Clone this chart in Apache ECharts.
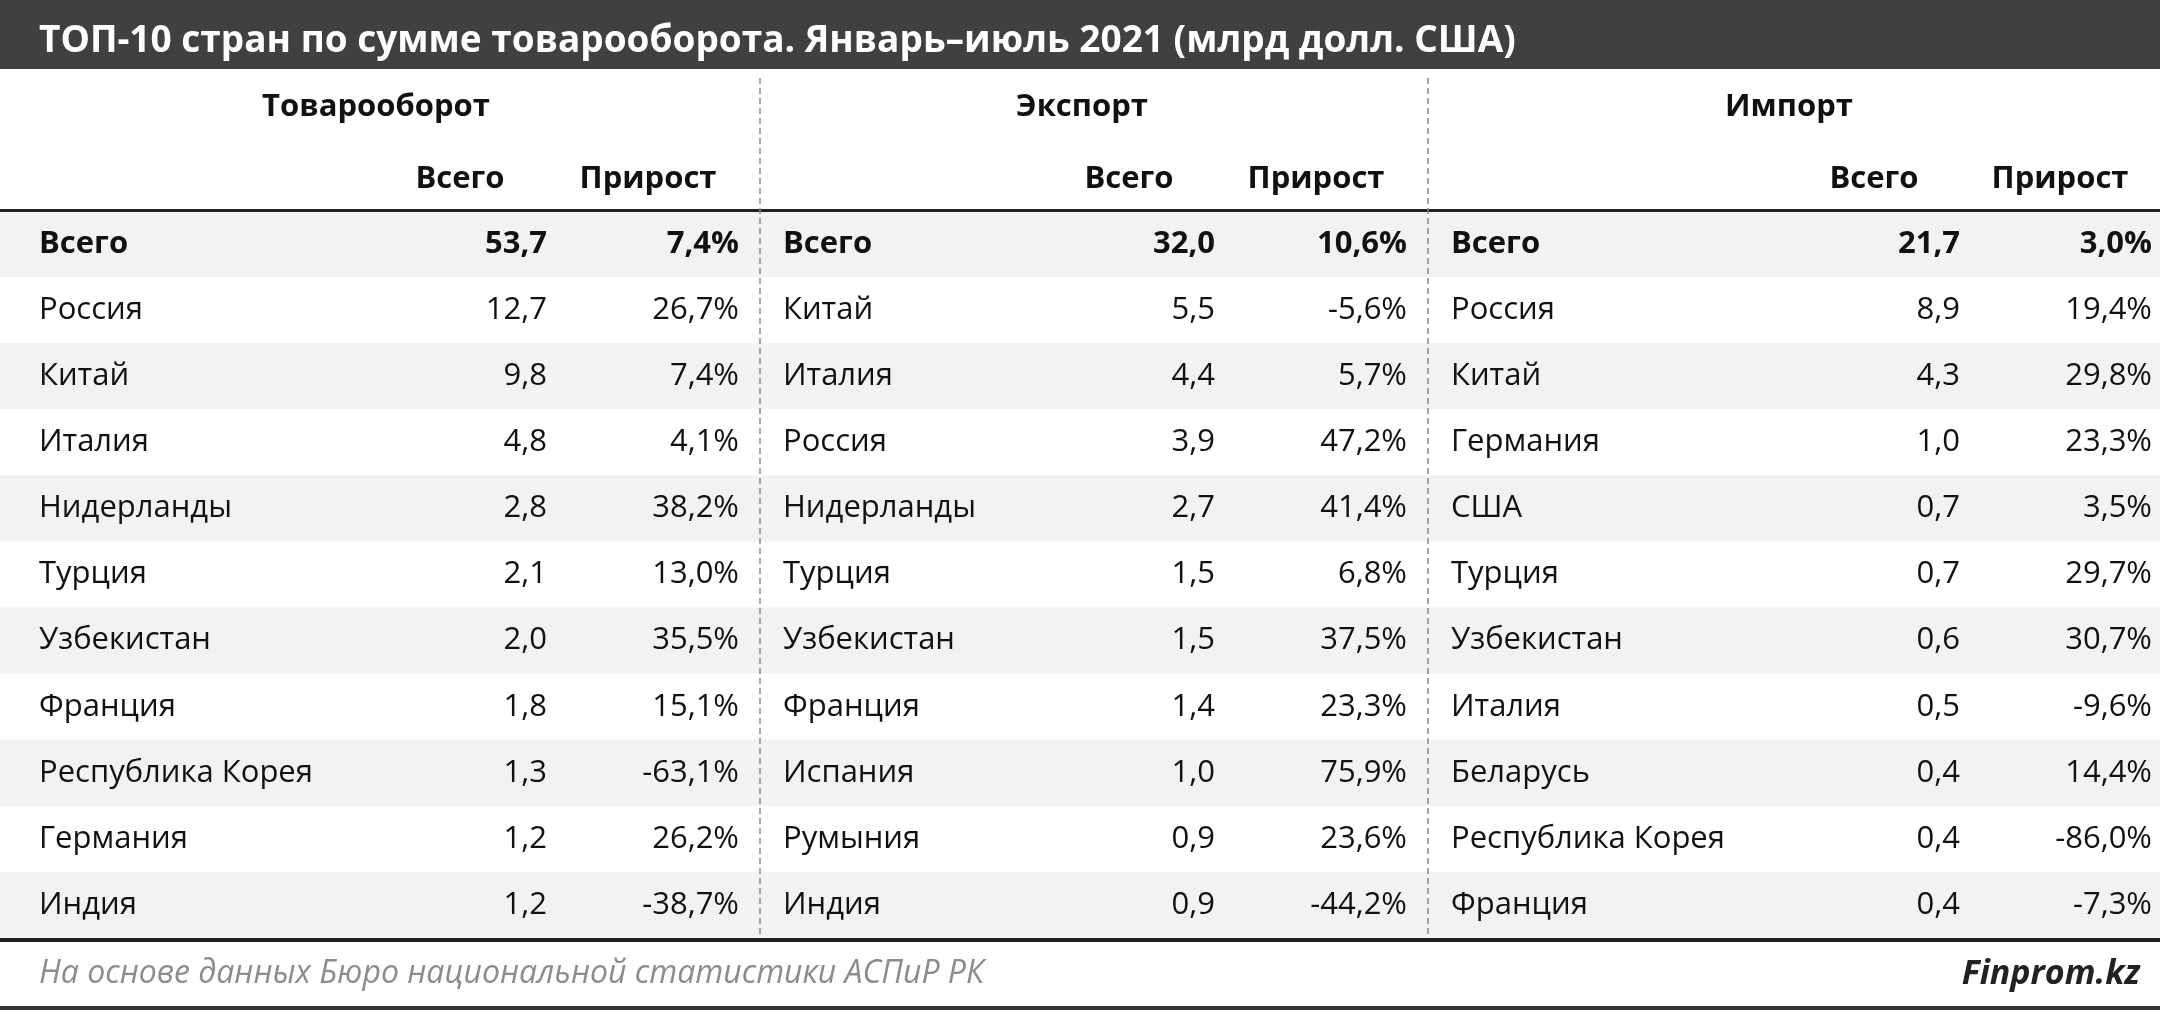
<!DOCTYPE html>
<html><head><meta charset="utf-8">
<script src="https://cdn.jsdelivr.net/npm/echarts@6/dist/echarts.min.js"></script>
<style>html,body{margin:0;padding:0;background:#fff}#c{width:2160px;height:1011px}</style>
</head><body><div id="c"></div>
<script>
const title = 'ТОП-10 стран по сумме товарооборота. Январь–июль 2021 (млрд долл. США)';
const sections = ['Товарооборот', 'Экспорт', 'Импорт'];
const subHeaders = ['Всего', 'Прирост'];
const tradeNames = ['Всего','Россия','Китай','Италия','Нидерланды','Турция','Узбекистан','Франция','Республика Корея','Германия','Индия'];
const tradeTotal = ['53,7','12,7','9,8','4,8','2,8','2,1','2,0','1,8','1,3','1,2','1,2'];
const tradeGrowth = ['7,4%','26,7%','7,4%','4,1%','38,2%','13,0%','35,5%','15,1%','-63,1%','26,2%','-38,7%'];
const exportNames = ['Всего','Китай','Италия','Россия','Нидерланды','Турция','Узбекистан','Франция','Испания','Румыния','Индия'];
const exportTotal = ['32,0','5,5','4,4','3,9','2,7','1,5','1,5','1,4','1,0','0,9','0,9'];
const exportGrowth = ['10,6%','-5,6%','5,7%','47,2%','41,4%','6,8%','37,5%','23,3%','75,9%','23,6%','-44,2%'];
const importNames = ['Всего','Россия','Китай','Германия','США','Турция','Узбекистан','Италия','Беларусь','Республика Корея','Франция'];
const importTotal = ['21,7','8,9','4,3','1,0','0,7','0,7','0,6','0,5','0,4','0,4','0,4'];
const importGrowth = ['3,0%','19,4%','29,8%','23,3%','3,5%','29,7%','30,7%','-9,6%','14,4%','-86,0%','-7,3%'];
const footer = 'На основе данных Бюро национальной статистики АСПиР РК';
const brand = 'Finprom.kz';

const cols = [
  {names: tradeNames, total: tradeTotal, growth: tradeGrowth, nameX: 39, totX: 547, grX: 739, hdrX: 376, subX: [460, 648]},
  {names: exportNames, total: exportTotal, growth: exportGrowth, nameX: 783, totX: 1215, grX: 1407, hdrX: 1082, subX: [1129, 1316]},
  {names: importNames, total: importTotal, growth: importGrowth, nameX: 1451, totX: 1960, grX: 2152, hdrX: 1789, subX: [1874, 2060]}
];
const F = '"Open Sans", "Noto Sans", sans-serif';
const rowTop = 211, rowH = 66.1, fs = 31;
const g = [];
g.push({type:'rect', shape:{x:0,y:0,width:2160,height:69}, style:{fill:'#404040'}});
g.push({type:'text', x:39, y:41, style:{text:title, fill:'#fff', font:'bold 37px '+F, textVerticalAlign:'middle'}});
for (let k = 0; k < 11; k++) {
  if (k % 2 === 0) g.push({type:'rect', shape:{x:0,y:rowTop+k*rowH,width:2160,height:rowH}, style:{fill:'#f2f2f2'}});
}
g.push({type:'rect', shape:{x:0,y:rowTop-2,width:2160,height:3}, style:{fill:'#222'}});
g.push({type:'rect', shape:{x:0,y:rowTop+11*rowH,width:2160,height:4}, style:{fill:'#222'}});
g.push({type:'rect', shape:{x:0,y:1006,width:2160,height:4}, style:{fill:'#333'}});
[760,1428].forEach(x => g.push({type:'line', shape:{x1:x,y1:78,x2:x,y2:rowTop+11*rowH}, style:{stroke:'#888', lineWidth:1.5, lineDash:[6,4]}}));
cols.forEach((c, i) => {
  const fw = 'bold ';
  g.push({type:'text', x:c.hdrX, y:107, style:{text:sections[i], fill:'#111', font:fw+fs+'px '+F, textAlign:'center', textVerticalAlign:'middle'}});
  subHeaders.forEach((s, j) => g.push({type:'text', x:c.subX[j], y:179, style:{text:s, fill:'#111', font:fw+fs+'px '+F, textAlign:'center', textVerticalAlign:'middle'}}));
  for (let k = 0; k < 11; k++) {
    const y = rowTop + (k + 0.5) * rowH;
    const f = (k === 0 ? 'bold ' : '') + fs + 'px ' + F;
    g.push({type:'text', x:c.nameX, y, style:{text:c.names[k], fill:'#111', font:f, textVerticalAlign:'middle'}});
    g.push({type:'text', x:c.totX, y, style:{text:c.total[k], fill:'#111', font:f, textAlign:'right', textVerticalAlign:'middle'}});
    g.push({type:'text', x:c.grX, y, style:{text:c.growth[k], fill:'#111', font:f, textAlign:'right', textVerticalAlign:'middle'}});
  }
});
g.push({type:'text', x:39, y:974, style:{text:footer, fill:'#8c8c8c', font:'italic 32px '+F, textVerticalAlign:'middle'}});
g.push({type:'text', x:2140, y:974, style:{text:brand, fill:'#222', font:'italic bold 34px '+F, textAlign:'right', textVerticalAlign:'middle'}});
const chart = echarts.init(document.getElementById('c'));
chart.setOption({animation:false, graphic:{elements:g}});
</script></body></html>
